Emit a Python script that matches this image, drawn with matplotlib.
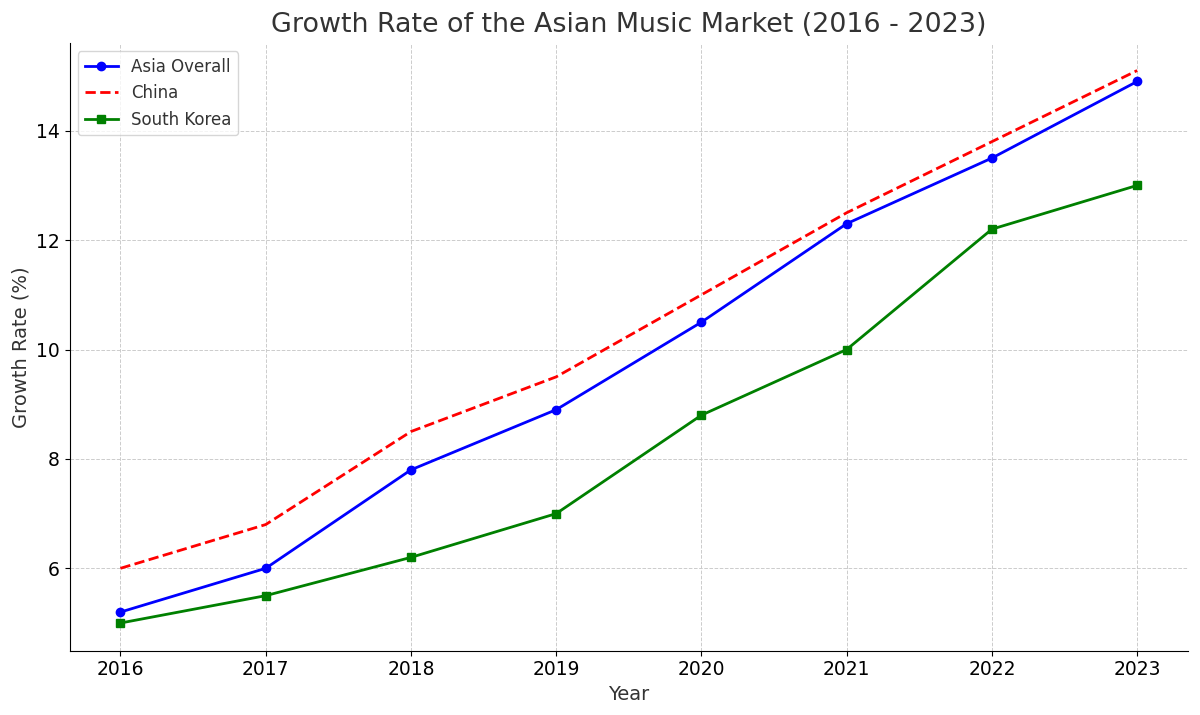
import matplotlib
matplotlib.use("Agg")
import matplotlib.pyplot as plt

years = [2016, 2017, 2018, 2019, 2020, 2021, 2022, 2023]
asia_overall = [5.2, 6.0, 7.8, 8.9, 10.5, 12.3, 13.5, 14.9]
china = [6.0, 6.8, 8.5, 9.5, 11.0, 12.5, 13.8, 15.1]
south_korea = [5.0, 5.5, 6.2, 7.0, 8.8, 10.0, 12.2, 13.0]

plt.rcParams['font.family'] = ['DejaVu Sans']
text_color = '#333333'

fig, ax = plt.subplots(figsize=(12, 7.15), dpi=100)
ax.plot(years, asia_overall, color='blue', marker='o', linewidth=2, markersize=6, label='Asia Overall')
ax.plot(years, china, color='red', linestyle='--', linewidth=2, label='China')
ax.plot(years, south_korea, color='green', marker='s', linewidth=2, markersize=6, label='South Korea')

ax.set_title('Growth Rate of the Asian Music Market (2016 - 2023)', fontsize=19.4, color=text_color, pad=8)
ax.set_xlabel('Year', fontsize=14, color=text_color)
ax.set_ylabel('Growth Rate (%)', fontsize=14, color=text_color)
ax.set_xticks(years)
ax.set_yticks([6, 8, 10, 12, 14])
ax.tick_params(labelsize=13.5, colors='black')
ax.grid(True, linestyle='--', color='#cccccc', linewidth=0.7)
ax.spines['top'].set_visible(False)
ax.spines['right'].set_visible(False)
leg = ax.legend(loc='upper left', fontsize=12)
for t in leg.get_texts():
    t.set_color(text_color)

fig.subplots_adjust(left=0.058, right=0.99, top=0.94, bottom=0.09)
fig.savefig('out.png')
